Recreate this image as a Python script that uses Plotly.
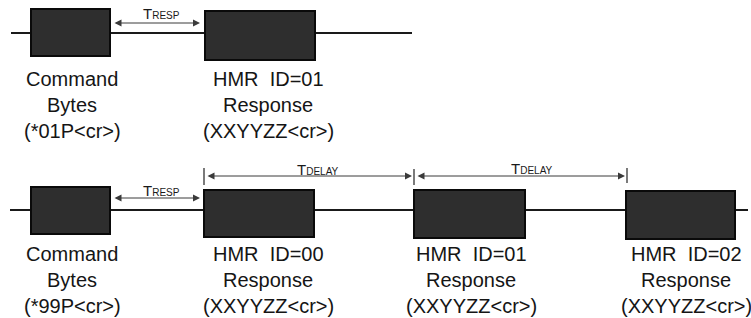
import plotly.graph_objects as go

# --- data (diagram geometry in pixel-like units of a 751x318 canvas) ---
row_names = ["single", "broadcast"]
row_line_y = [33, 210]
row_line_x = [(11, 412), (10, 748)]

# boxes: (row, x0, x1, y0, y1)
box_row = [0, 0, 1, 1, 1, 1]
box_x0 = [31, 205, 31, 204, 414, 626]
box_x1 = [110, 315, 110, 314, 525, 735]
box_y0 = [9, 11, 187, 190, 190, 191]
box_y1 = [56, 60, 234, 237, 238, 239]

# label blocks under boxes
label_x = [72, 268, 72, 268, 471, 686]
label_y0 = [79, 79, 254, 254, 254, 254]
label_lines = [
    ["Command", "Bytes", "(*01P<cr>)"],
    ["HMR\u00a0 ID=01", "Response", "(XXYYZZ<cr>)"],
    ["Command", "Bytes", "(*99P<cr>)"],
    ["HMR\u00a0 ID=00", "Response", "(XXYYZZ<cr>)"],
    ["HMR\u00a0 ID=01", "Response", "(XXYYZZ<cr>)"],
    ["HMR\u00a0 ID=02", "Response", "(XXYYZZ<cr>)"],
]
line_step = 26

# timing arrows: (x0, x1, y, label, label_x, label_y)
arrow_x0 = [113, 113, 206, 416]
arrow_x1 = [200, 200, 412, 625]
arrow_y = [23, 198, 176, 176]
arrow_lbl = ["RESP", "RESP", "DELAY", "DELAY"]
arrow_lbl_x = [161, 161, 318, 532]
arrow_lbl_y = [13, 190, 169, 168]

# tick marks for TDELAY
tick_x = [204, 414, 627]
tick_y0 = [168, 169, 168]
tick_y1 = [185, 185, 183]

fig = go.Figure()
fig.add_trace(go.Scatter(x=[0, 751], y=[0, 318], mode="markers",
                         marker=dict(opacity=0), hoverinfo="skip", showlegend=False))

shapes = []
for (x0, x1), y in zip(row_line_x, row_line_y):
    shapes.append(dict(type="line", x0=x0, x1=x1, y0=y, y1=y,
                       line=dict(color="#1a1a1a", width=2.2), layer="below"))
for r, x0, x1, y0, y1 in zip(box_row, box_x0, box_x1, box_y0, box_y1):
    shapes.append(dict(type="rect", x0=x0, x1=x1, y0=y0, y1=y1,
                       fillcolor="#2e2e2e", line=dict(color="#0a0a0a", width=2)))
for x, y0, y1 in zip(tick_x, tick_y0, tick_y1):
    shapes.append(dict(type="line", x0=x, x1=x, y0=y0, y1=y1,
                       line=dict(color="#333333", width=1.3)))

annotations = []
for x0, x1, y in zip(arrow_x0, arrow_x1, arrow_y):
    annotations.append(dict(x=x1, y=y, ax=x0, ay=y, xref="x", yref="y",
                            axref="x", ayref="y", text="", showarrow=True,
                            arrowhead=2, startarrowhead=2, arrowside="end+start",
                            arrowsize=1.4, startarrowsize=1.4,
                            arrowwidth=1, arrowcolor="#3a3a3a"))
for lbl, x, y in zip(arrow_lbl, arrow_lbl_x, arrow_lbl_y):
    annotations.append(dict(x=x, y=y, xref="x", yref="y", showarrow=False,
                            text="T<span style='font-size:10px'>" + lbl + "</span>",
                            font=dict(family="Liberation Sans, Arial", size=15, color="#1a1a1a"),
                            xanchor="center", yanchor="middle"))
for x, y0, lines in zip(label_x, label_y0, label_lines):
    for i, t in enumerate(lines):
        annotations.append(dict(x=x, y=y0 + i * line_step, xref="x", yref="y",
                                showarrow=False, text=t,
                                font=dict(family="Liberation Sans, Arial", size=20, color="#151515"),
                                xanchor="center", yanchor="middle"))

fig.update_layout(
    width=751, height=318,
    margin=dict(l=0, r=0, t=0, b=0),
    paper_bgcolor="white", plot_bgcolor="white",
    xaxis=dict(range=[0, 751], visible=False, fixedrange=True),
    yaxis=dict(range=[318, 0], visible=False, fixedrange=True),
    shapes=shapes, annotations=annotations, showlegend=False,
)
fig.write_html("out.html", config={"displayModeBar": False},
               post_script="document.body.style.margin='0';document.body.style.overflow='hidden';")
